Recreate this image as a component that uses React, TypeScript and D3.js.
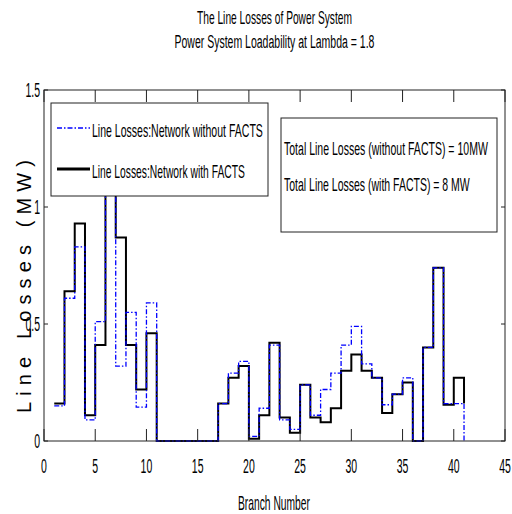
import React, { useEffect, useRef } from "react";
import * as d3 from "d3";

const branches = d3.range(1, 42);
const withoutFacts = [
  0.15, 0.61, 0.83, 0.09, 0.51, 1.25, 0.32, 0.55, 0.145, 0.59,
  0, 0, 0, 0, 0, 0,
  0.16, 0.29, 0.34, 0.02, 0.14, 0.41, 0.09, 0.05, 0.24, 0.11,
  0.22, 0.29, 0.41, 0.49, 0.33, 0.27, 0.155, 0.2, 0.27,
  0, 0.4, 0.74, 0.16, 0.16, 0,
];
const withFacts = [
  0.16, 0.64, 0.93, 0.11, 0.41, 1.2, 0.87, 0.41, 0.22, 0.46,
  0, 0, 0, 0, 0, 0,
  0.16, 0.27, 0.32, 0.01, 0.11, 0.42, 0.1, 0.035, 0.24, 0.1,
  0.08, 0.14, 0.3, 0.37, 0.3, 0.27, 0.12, 0.2, 0.25,
  0, 0.4, 0.74, 0.155, 0.27, 0.16,
];
const xTicks = d3.range(0, 46, 5);
const yTicks = [0, 0.5, 1, 1.5];
const yTickLabels = ["0", "0.5", "1", "1.5"];
const titleLines = ["The Line Losses of Power System", "Power System Loadability at Lambda = 1.8"];
const legendLabels = ["Line Losses:Network without FACTS", "Line Losses:Network with FACTS"];
const totalLines = ["Total Line Losses (without FACTS) = 10MW", "Total Line Losses (with FACTS) = 8 MW"];

const FONT = "'Liberation Sans', Arial, sans-serif";

export default function App() {
  const ref = useRef<SVGSVGElement>(null);

  useEffect(() => {
    const svg = d3.select(ref.current);
    svg.selectAll("*").remove();

    const left = 44, right = 505, top = 90, bottom = 441;
    const x = d3.scaleLinear().domain([0, 45]).range([left, right]);
    const y = d3.scaleLinear().domain([0, 1.5]).range([bottom, top]);

    // narrow text: squeeze horizontally to a measured width
    const squeezed = (parent: any, s: string, x0: number, yb: number, w: number, size: number) => {
      const t = parent.append("text")
        .attr("font-family", FONT).attr("font-size", size)
        .text(s);
      const len = (t.node() as SVGTextElement).getComputedTextLength() || w;
      t.attr("transform", `translate(${x0},${yb}) scale(${w / len},1)`);
      return t;
    };

    svg.append("rect").attr("width", 512).attr("height", 514).attr("fill", "#fff");

    // plot lines
    const line = d3.line<number>()
      .x((d, i) => x(branches[i]))
      .y(d => y(d))
      .curve(d3.curveStepAfter);

    svg.append("path")
      .attr("d", line(withFacts))
      .attr("fill", "none")
      .attr("stroke", "#000")
      .attr("stroke-width", 2);

    svg.append("path")
      .attr("d", line(withoutFacts))
      .attr("fill", "none")
      .attr("stroke", "#0000ff")
      .attr("stroke-width", 1.3)
      .attr("stroke-dasharray", "5,2,1.5,2");

    // axes box
    svg.append("rect")
      .attr("x", left).attr("y", top)
      .attr("width", right - left).attr("height", bottom - top)
      .attr("fill", "none").attr("stroke", "#222").attr("stroke-width", 1);

    xTicks.forEach(t => {
      svg.append("line").attr("x1", x(t)).attr("x2", x(t))
        .attr("y1", bottom).attr("y2", bottom - 12).attr("stroke", "#222");
      svg.append("line").attr("x1", x(t)).attr("x2", x(t))
        .attr("y1", top).attr("y2", top + 12).attr("stroke", "#222");
      svg.append("text")
        .attr("transform", `translate(${x(t)},473) scale(0.5,1)`)
        .attr("text-anchor", "middle")
        .attr("font-family", FONT).attr("font-size", 21)
        .text(String(t));
    });

    yTicks.forEach((t, i) => {
      svg.append("line").attr("x1", left).attr("x2", left + 4)
        .attr("y1", y(t)).attr("y2", y(t)).attr("stroke", "#222");
      svg.append("line").attr("x1", right).attr("x2", right - 4)
        .attr("y1", y(t)).attr("y2", y(t)).attr("stroke", "#222");
      svg.append("text")
        .attr("transform", `translate(40,${y(t) + 7}) scale(0.5,1)`)
        .attr("text-anchor", "end")
        .attr("font-family", FONT).attr("font-size", 21)
        .text(yTickLabels[i]);
    });

    // titles and axis labels
    const titleY = [24, 48];
    const titleW = [155, 200];
    titleLines.forEach((s, i) => {
      squeezed(svg, s, 274.5 - titleW[i] / 2, titleY[i], titleW[i], 19);
    });

    squeezed(svg, "Branch Number", 238, 510, 72, 20);

    svg.append("text")
      .attr("transform", `translate(31,413) rotate(-90)`)
      .attr("textLength", 253).attr("lengthAdjust", "spacing")
      .attr("font-family", FONT).attr("font-size", 20)
      .text("Line Losses (MW)");

    // legend
    const lg = svg.append("g");
    lg.append("rect").attr("x", 51).attr("y", 103).attr("width", 217).attr("height", 93)
      .attr("fill", "#fff").attr("stroke", "#222");
    lg.append("line").attr("x1", 57).attr("x2", 90).attr("y1", 128).attr("y2", 128)
      .attr("stroke", "#0000ff").attr("stroke-width", 1.5).attr("stroke-dasharray", "5,2,1.5,2");
    lg.append("line").attr("x1", 57).attr("x2", 90).attr("y1", 169).attr("y2", 169)
      .attr("stroke", "#000").attr("stroke-width", 3);
    const lgW = [171, 153];
    const lgY = [137, 178];
    legendLabels.forEach((s, i) => {
      squeezed(lg, s, 92, lgY[i], lgW[i], 18);
    });

    // totals box
    const tb = svg.append("g");
    tb.append("rect").attr("x", 281).attr("y", 118).attr("width", 216).attr("height", 114)
      .attr("fill", "#fff").attr("stroke", "#222");
    const tbW = [204, 186];
    const tbY = [155, 191];
    totalLines.forEach((s, i) => {
      squeezed(tb, s, 284, tbY[i], tbW[i], 18);
    });
  }, []);

  return (
    <svg ref={ref} width={512} height={514}
      style={{ position: "absolute", left: 0, top: 0 }} />
  );
}
